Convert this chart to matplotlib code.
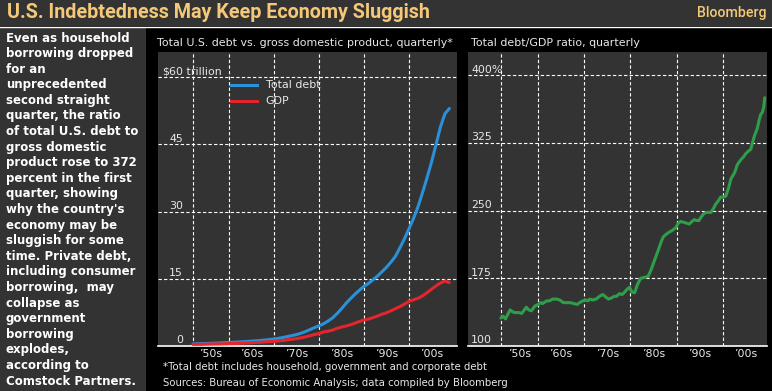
import matplotlib
matplotlib.use("Agg")
import matplotlib.pyplot as plt

W, H = 772, 391

# ---- data ----
debt_years = [1952, 1953, 1954, 1955, 1956, 1957, 1958, 1959, 1960, 1961, 1962, 1963,
              1964, 1965, 1966, 1967, 1968, 1969, 1970, 1971, 1972, 1973, 1974, 1975,
              1976, 1977, 1978, 1979, 1980, 1981, 1982, 1983, 1984, 1985, 1986, 1987,
              1988, 1989, 1990, 1991, 1992, 1993, 1994, 1995, 1996, 1997, 1998, 1999,
              2000, 2001, 2002, 2003, 2004, 2005, 2006, 2007, 2008, 2009]
total_debt = [0.48, 0.50, 0.53, 0.57, 0.60, 0.64, 0.68, 0.73, 0.78, 0.83, 0.89, 0.95,
              1.01, 1.08, 1.15, 1.24, 1.34, 1.45, 1.56, 1.71, 1.90, 2.12, 2.33, 2.55,
              2.85, 3.22, 3.66, 4.10, 4.50, 4.95, 5.55, 6.25, 7.20, 8.30, 9.50, 10.55,
              11.55, 12.45, 13.30, 13.95, 14.75, 15.60, 16.55, 17.55, 18.70, 20.00, 21.90, 23.90,
              26.10, 28.40, 31.00, 34.10, 37.40, 40.90, 44.80, 48.80, 51.80, 53.00]
gdp = [0.36, 0.38, 0.38, 0.42, 0.44, 0.46, 0.47, 0.51, 0.53, 0.55, 0.59, 0.62,
       0.66, 0.72, 0.79, 0.83, 0.91, 0.98, 1.04, 1.13, 1.24, 1.38, 1.50, 1.64,
       1.82, 2.03, 2.29, 2.56, 2.79, 3.13, 3.31, 3.54, 3.93, 4.22, 4.46, 4.74,
       5.10, 5.48, 5.80, 5.99, 6.34, 6.67, 7.09, 7.41, 7.84, 8.33, 8.79, 9.35,
       9.95, 10.29, 10.64, 11.14, 11.87, 12.64, 13.40, 14.06, 14.50, 14.15]

ratio_years = [1952.0, 1952.5, 1953.0, 1954.0, 1954.5, 1955.0, 1956.0, 1956.5, 1957.5, 1958.0,
               1958.6, 1959.3, 1960.0, 1960.6, 1961.0, 1961.9, 1962.5, 1963.2, 1964.0, 1964.7,
               1965.5, 1966.2, 1967.0, 1967.8, 1968.5, 1969.0, 1969.7, 1970.3, 1970.8, 1971.2,
               1971.8, 1972.6, 1973.3, 1974.0, 1974.5, 1975.2, 1975.8, 1976.5, 1977.0, 1977.6,
               1978.2, 1978.8, 1979.3, 1979.8, 1980.3, 1980.9, 1981.5, 1982.2, 1983.0, 1983.8,
               1984.5, 1985.2, 1986.0, 1986.6, 1987.1, 1988.0, 1989.0, 1989.8, 1990.3, 1990.9,
               1991.5, 1992.2, 1992.7, 1993.3, 1993.8, 1994.3, 1994.8, 1995.3, 1995.9, 1996.5,
               1997.4, 1998.0, 1998.4, 1999.0, 1999.5, 2000.0, 2000.6, 2001.2, 2001.7, 2002.5,
               2003.1, 2003.8, 2004.5, 2004.9, 2005.5, 2006.0, 2006.3, 2006.8, 2007.4, 2007.8,
               2008.1, 2008.5, 2008.8, 2009.0]
ratio = [131, 133, 130, 140, 138, 137, 137, 136, 143, 140,
         139, 144, 146, 148, 147, 150, 150, 152, 152, 151,
         148, 148, 148, 147, 146, 148, 150, 151, 150, 152,
         151, 152, 155, 157, 155, 152, 153, 155, 155, 158,
         157, 160, 163, 165, 160, 159, 168, 175, 176, 177,
         185, 195, 206, 215, 221, 225, 228, 231, 236, 238,
         237, 236, 235, 238, 240, 239, 239, 243, 247, 248,
         248, 253, 257, 261, 265, 265, 266, 275, 285, 292,
         301, 306, 310, 313, 316, 318, 324, 333, 341, 350,
         356, 359, 365, 375]

grid_years = [1952, 1960, 1970, 1980, 1990, 2000]
label_years = [1956, 1965, 1975, 1985, 1995, 2005]
decade_labels = ["\u201950s", "\u201960s", "\u201970s", "\u201980s", "\u201990s", "\u201900s"]
left_yticks = [0, 15, 30, 45, 60]
left_ylabels = ["0", "15", "30", "45", "$60"]
right_yticks = [100, 175, 250, 325, 400]
right_ylabels = ["100", "175", "250", "325", "400%"]

blurb = ["Even as household", "borrowing dropped", "for an", "unprecedented",
         "second straight", "quarter, the ratio", "of total U.S. debt to",
         "gross domestic", "product rose to 372", "percent in the first",
         "quarter, showing", "why the country's", "economy may be",
         "sluggish for some", "time. Private debt,", "including consumer",
         "borrowing,  may", "collapse as", "government", "borrowing",
         "explodes,", "according to", "Comstock Partners."]

PANEL = "#333333"
TXT = "#e8e8e8"
FS = 7.9


def fx(px):
    return px / W


def fy(py):
    return 1 - py / H


def box(x0, y0, x1, y1):
    return [fx(x0), fy(y1), (x1 - x0) / W, (y1 - y0) / H]


fig = plt.figure(figsize=(W / 100, H / 100), dpi=100, facecolor="black")

# backgrounds
bg = fig.add_axes([0, 0, 1, 1])
bg.set_xlim(0, W)
bg.set_ylim(H, 0)
bg.axis("off")
bg.add_patch(plt.Rectangle((0, 0), W, 26, color=PANEL, lw=0))
bg.add_patch(plt.Rectangle((0, 28), 146, H - 28, color=PANEL, lw=0))
bg.plot([0, W], [26.5, 26.5], color="white", lw=1.0)

fig.text(fx(7), fy(13), "U.S. Indebtedness May Keep Economy Sluggish", color="#f5c878",
         fontsize=14.2, fontweight="bold", family=["Roboto", "DejaVu Sans"], va="center")
fig.text(fx(767), fy(13.5), "Bloomberg", color="#f5c878", fontsize=10.2,
         family=["Roboto", "DejaVu Sans"], fontweight="medium", ha="right", va="center")

for i, line in enumerate(blurb):
    fig.text(fx(6), fy(38 + 15.6 * i), line, color="white", fontsize=8.5,
             fontweight="bold", va="center")


def setup(ax, xlim, ylim, yticks, ylabels, ylab_x, ha):
    ax.set_facecolor(PANEL)
    ax.set_xlim(*xlim)
    ax.set_ylim(*ylim)
    for s in ["top", "left", "right"]:
        ax.spines[s].set_visible(False)
    ax.spines["bottom"].set_color("white")
    ax.spines["bottom"].set_linewidth(1.2)
    ax.set_yticks([])
    ax.set_xticks(label_years)
    ax.set_xticklabels(decade_labels)
    ax.tick_params(axis="x", length=0, pad=2, labelsize=FS, colors=TXT)
    for y in yticks[1:]:
        ax.axhline(y, color="white", lw=0.8, ls=(0, (3, 2)), zorder=1)
    for x in grid_years:
        ax.axvline(x, color="white", lw=0.8, ls=(0, (3, 2)), zorder=1)
    tr = ax.get_yaxis_transform()
    for y, lab in zip(yticks, ylabels):
        ax.text(ylab_x, y + (ylim[1] - ylim[0]) * 0.002, lab, transform=tr, ha=ha,
                va="bottom", color=TXT, fontsize=FS, zorder=3)


# left chart
ax1 = fig.add_axes(box(158, 52, 457, 346))
setup(ax1, (1944.2, 2010.7), (0, 65.6), left_yticks, left_ylabels,
      (183 - 158) / 299, "right")
ax1.text((183 - 158) / 299, 60 + 0.13, " trillion", transform=ax1.get_yaxis_transform(),
         ha="left", va="bottom", color=TXT, fontsize=FS)
ax1.plot(debt_years, total_debt, color="#2a90d8", lw=2.2, zorder=4, solid_capstyle="round")
ax1.plot(debt_years, gdp, color="#e3262b", lw=2.2, zorder=4, solid_capstyle="round")
# legend
ax1.plot([0.244, 0.331], [0.888, 0.888], transform=ax1.transAxes, color="#2a90d8", lw=2.2)
ax1.plot([0.244, 0.331], [0.833, 0.833], transform=ax1.transAxes, color="#e3262b", lw=2.2)
ax1.text(0.36, 0.888, "Total debt", transform=ax1.transAxes, va="center", color=TXT, fontsize=FS)
ax1.text(0.36, 0.833, "GDP", transform=ax1.transAxes, va="center", color=TXT, fontsize=FS)

# right chart
ax2 = fig.add_axes(box(468, 52, 767, 346))
setup(ax2, (1944.9, 2009.5), (100, 425.7), right_yticks, right_ylabels,
      (471 - 468) / 299, "left")
ax2.plot(ratio_years, ratio, color="#2f9e4a", lw=2.2, zorder=4, solid_capstyle="round")

# titles and notes
fig.text(fx(157), fy(42.5), "Total U.S. debt vs. gross domestic product, quarterly*",
         color=TXT, fontsize=7.9, va="center")
fig.text(fx(471), fy(42.5), "Total debt/GDP ratio, quarterly", color=TXT, fontsize=7.9,
         va="center")
fig.text(fx(163), fy(366.5), "*Total debt includes household, government and corporate debt",
         color=TXT, fontsize=7.3, va="center")
fig.text(fx(163), fy(383.5), "Sources: Bureau of Economic Analysis; data compiled by Bloomberg",
         color=TXT, fontsize=7.3, va="center")

fig.savefig("out.png", dpi=100, facecolor="black")
